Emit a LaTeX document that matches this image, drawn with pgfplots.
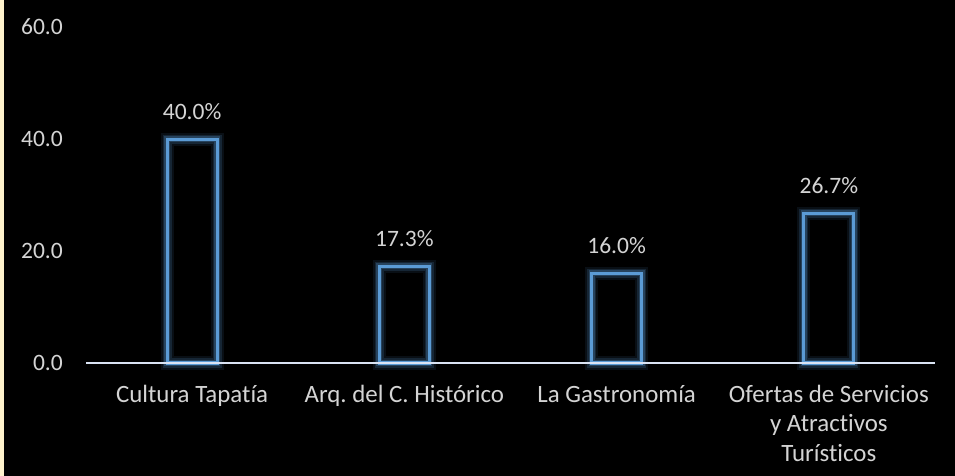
\documentclass[border=0pt]{standalone}
\usepackage{pgfplots}
\pgfplotsset{compat=1.18}
\usepackage{fontspec}
\setmainfont{Carlito}[Ligatures=NoCommon]
\frenchspacing
\definecolor{barblue}{HTML}{5B9BD5}
\definecolor{txt}{HTML}{D4D4D4}
\definecolor{cream}{HTML}{FFF2CC}
\definecolor{axiscol}{HTML}{DAE3F3}
\newcommand{\lblfont}{\fontsize{23.5bp}{29bp}\selectfont\frenchspacing}
\newcommand{\catfont}{\fontsize{24.9bp}{29.5bp}\selectfont\frenchspacing}
\begin{document}
\begin{tikzpicture}
\path[use as bounding box, fill=black] (0,0) rectangle (955bp,476bp);
\fill[cream] (0,0) rectangle (4bp,476bp);
\begin{axis}[
  at={(86bp,113bp)}, anchor=south west,
  scale only axis, width=849bp, height=336bp,
  xmin=-0.5, xmax=3.5, ymin=0, ymax=60,
  axis lines*=left,
  y axis line style={draw=none},
  x axis line style={draw=axiscol, line width=2.2bp, -},
  axis on top,
  tick style={draw=none},
  major tick length=0pt,
  xtick={0,1,2,3},
  xticklabels={{\strut Cultura Tapatía}, {\strut Arq. del C. Histórico}, {\strut La Gastronomía}, {\strut Ofertas de Servicios\\y Atractivos\\Turísticos}},
  xticklabel style={anchor=north, inner sep=0pt, yshift=-18.2bp, align=center, font=\catfont, text=txt},
  ytick={0,20,40,60},
  yticklabel style={anchor=east, inner sep=0pt, xshift=-23bp, font=\lblfont, text=txt},
  /pgf/number format/assume math mode=true,
  /pgf/number format/.cd, fixed, zerofill, precision=1, /pgfplots/.cd,
  ybar, bar width=50bp, bar shift=0pt,
  clip=false,
]
\addplot[draw=barblue, draw opacity=0.1, line width=13bp, fill=none] coordinates {(0,40.0) (1,17.3) (2,16.0) (3,26.7)};
\addplot[draw=barblue, draw opacity=0.17, line width=9bp, fill=none] coordinates {(0,40.0) (1,17.3) (2,16.0) (3,26.7)};
\addplot[draw=barblue, draw opacity=0.25, line width=6bp, fill=none] coordinates {(0,40.0) (1,17.3) (2,16.0) (3,26.7)};
\addplot[draw=barblue, line width=3bp, fill=none,
  nodes near coords={\pgfmathprintnumber[fixed,zerofill,precision=1,assume math mode=true]{\pgfplotspointmeta}\%},
  every node near coord/.append style={inner sep=0pt, yshift=18bp, font=\lblfont, text=txt}
] coordinates {(0,40.0) (1,17.3) (2,16.0) (3,26.7)};
\end{axis}
\end{tikzpicture}
\end{document}
